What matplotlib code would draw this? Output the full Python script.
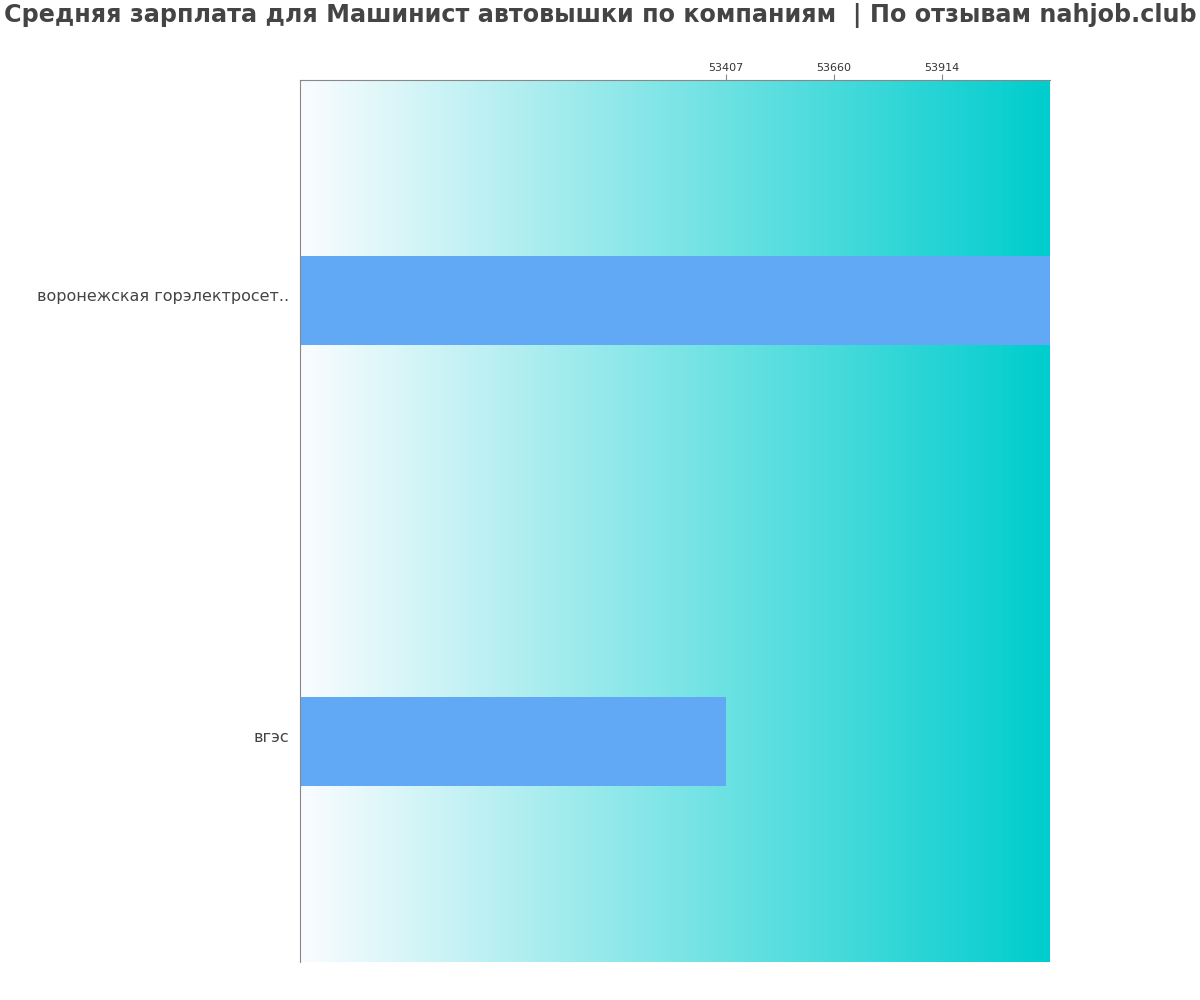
import numpy as np
import matplotlib
matplotlib.use("Agg")
import matplotlib.pyplot as plt
import matplotlib.transforms as mtransforms
from matplotlib.colors import LinearSegmentedColormap

# Данные
companies = ["воронежская горэлектросет..", "вгэс"]
salaries = [54167, 53407]
ticks = [53407, 53660, 53914]

fig = plt.figure(figsize=(12, 10), dpi=100)
ax = fig.add_axes([0.25, 0.038, 0.625, 0.882])

x_min, x_max = 52407, 54167
y = np.arange(len(companies))

# фон-градиент
cmap = LinearSegmentedColormap.from_list("bg", ["#fafcff", "#00cdcd"])
grad = np.linspace(0, 1, 256).reshape(1, -1)
ax.imshow(grad, cmap=cmap, aspect="auto", extent=[x_min, x_max, 1.5, -0.5], zorder=0)

ax.barh(y, salaries, height=0.2, color="#61a8f5", zorder=2)

ax.set_xlim(x_min, x_max)
ax.set_ylim(1.5, -0.5)
ax.set_yticks(y)
ax.set_yticklabels(companies, fontsize=11.5, color="#444444")
ax.tick_params(axis="y", length=0, pad=8)
# чуть приподнять подписи
shift = mtransforms.ScaledTranslation(0, 5 / 100, fig.dpi_scale_trans)
for lbl in ax.get_yticklabels():
    lbl.set_va("center_baseline")
    lbl.set_transform(lbl.get_transform() + shift)

ax.xaxis.tick_top()
ax.set_xticks(ticks)
ax.set_xticklabels([str(t) for t in ticks], fontsize=8, color="#333333")
ax.tick_params(axis="x", length=4, color="#888888", pad=1)

for side in ["right", "bottom"]:
    ax.spines[side].set_visible(False)
for side in ["left", "top"]:
    ax.spines[side].set_color("#888888")

fig.suptitle("Средняя зарплата для Машинист автовышки по компаниям  | По отзывам nahjob.club",
             fontsize=17.2, fontweight="bold", color="#444444", x=0.5, y=0.984, va="center")

fig.savefig("out.png", dpi=100)
